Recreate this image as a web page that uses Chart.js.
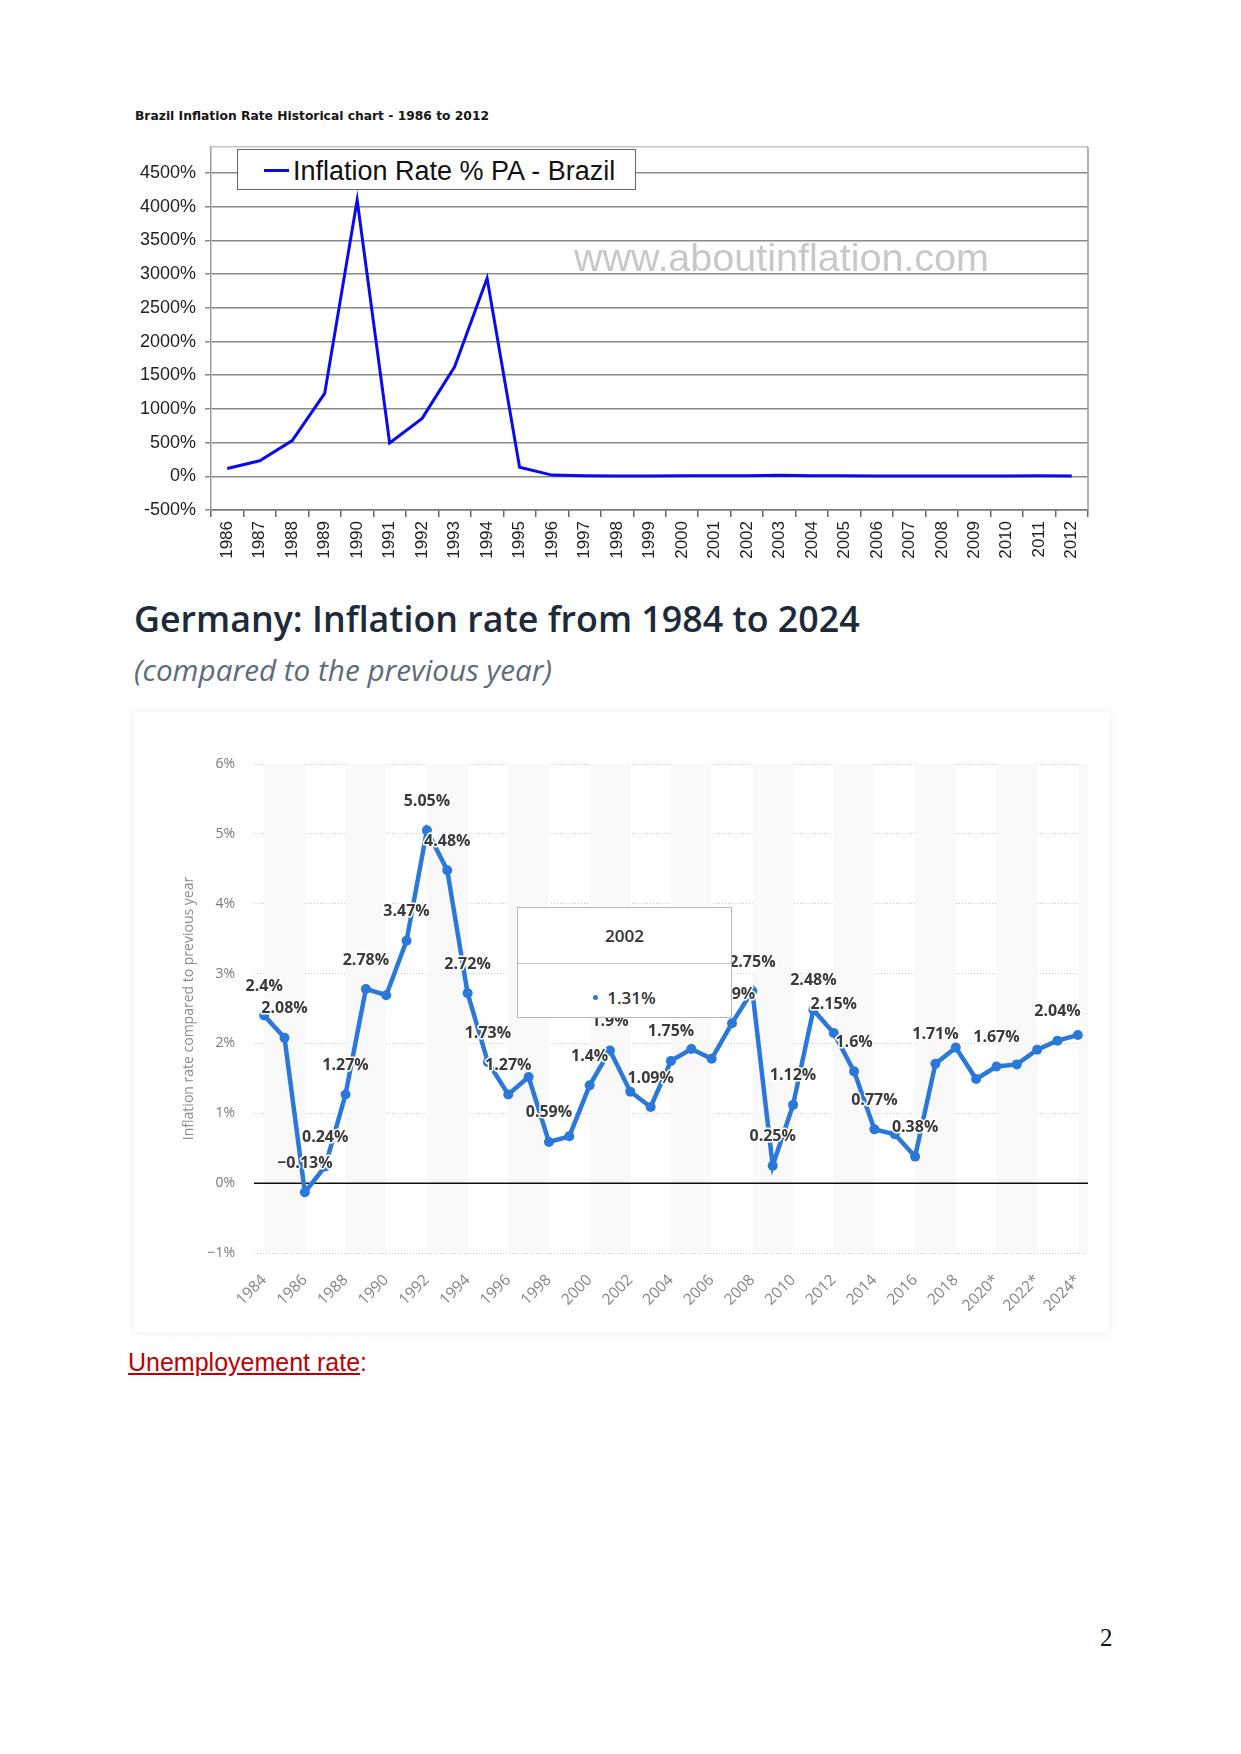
<!DOCTYPE html>
<html>
<head>
<meta charset="utf-8">
<script src="https://cdn.jsdelivr.net/npm/chart.js@4.4.1/dist/chart.umd.min.js"></script>
<style>
    body { margin: 0; background: #fff; width: 1241px; height: 1754px; position: relative; overflow: hidden; }
    .abs { position: absolute; white-space: nowrap; }

    #titulo_brasil { left: 135px; top: 109.6px; font: bold 12.3px/1 'DejaVu Sans'; color: #151515; }
    #caixa_brasil { left: 120px; top: 127px; width: 980px; height: 448px; }
    #marca_brasil { left: 574px; top: 238px; font: 39.5px/1 'Liberation Sans'; color: #c8c8c8; }
    #legenda_brasil { left: 237px; top: 149px; width: 399px; height: 41px; box-sizing: border-box; border: 1.5px solid #666; background: #fff; }
    #legenda_brasil .traco { position: absolute; left: 26px; top: 19px; width: 25px; height: 3px; background: #0a0aee; }
    #legenda_brasil .texto { position: absolute; left: 55px; top: 7.5px; font: 27px/1 'Liberation Sans'; color: #111; }

    #titulo_alemanha { left: 134px; top: 601px; font: 600 35.8px/1 'Open Sans'; color: #1c2a3a; }
    #subtitulo_alemanha { left: 134px; top: 655px; font: italic 29.7px/1 'Open Sans'; color: #5d6b7b; }
    #painel_alemanha { left: 134px; top: 712px; width: 976px; height: 620px; background: #fff; box-shadow: 0 0 10px rgba(0,0,0,0.08); }
    #caixa_alemanha { left: 134px; top: 712px; width: 976px; height: 620px; }
    #dica_alemanha { left: 517px; top: 907px; width: 215px; height: 111px; box-sizing: border-box; border: 1.5px solid #b8b8b8; background: #fff; font-family: 'Open Sans'; color: #333; }
    #dica_alemanha .cabeca { height: 55px; border-bottom: 1px solid #c8c8c8; text-align: center; font: 600 17px/55px 'Open Sans'; }
    #dica_alemanha .corpo { text-align: center; font: 600 17px/1 'Open Sans'; padding-top: 25px; }
    #dica_alemanha .bola { display: inline-block; width: 5px; height: 5px; border-radius: 50%; background: #2a78d9; vertical-align: middle; margin-right: 9px; position: relative; top: -2px; }

    #desemprego { left: 128px; top: 1350px; font: 25px/1 'Liberation Sans'; color: #c00000; }
    #desemprego a { color: #c00000; text-decoration: underline; text-underline-offset: 2px; }
    #pagina { left: 1100px; top: 1625px; font: 25px/1 'Liberation Serif'; color: #111; }
</style>
</head>
<body>

<div class="abs" id="titulo_brasil">Brazil Inflation Rate Historical chart - 1986 to 2012</div>
<div class="abs" id="caixa_brasil"><canvas id="grafico_brasil"></canvas></div>
<div class="abs" id="marca_brasil">www.aboutinflation.com</div>
<div class="abs" id="legenda_brasil"><div class="traco"></div><div class="texto">Inflation Rate % PA - Brazil</div></div>

<div class="abs" id="titulo_alemanha">Germany: Inflation rate from 1984 to 2024</div>
<div class="abs" id="subtitulo_alemanha">(compared to the previous year)</div>
<div class="abs" id="painel_alemanha"></div>
<div class="abs" id="caixa_alemanha"><canvas id="grafico_alemanha"></canvas></div>
<div class="abs" id="dica_alemanha"><div class="cabeca" id="dica_ano"></div><div class="corpo"><span class="bola"></span><span id="dica_valor"></span></div></div>

<div class="abs" id="desemprego"><a>Unemployement rate</a>:</div>
<div class="abs" id="pagina">2</div>

<script>
/* DADOS BRASIL */

const anos_brasil = ['1986', '1987', '1988', '1989', '1990', '1991', '1992', '1993', '1994', '1995', '1996', '1997', '1998', '1999',
    '2000', '2001', '2002', '2003', '2004', '2005', '2006', '2007', '2008', '2009', '2010', '2011', '2012'];

const inflacao_brasil = [115, 230, 530, 1230, 4100, 495, 860, 1625, 2940, 135, 18, 7, 3, 5,
    7, 7, 8, 15, 7, 7, 4, 4, 6, 5, 5, 7, 5];

const ticks_brasil = [-500, 0, 500, 1000, 1500, 2000, 2500, 3000, 3500, 4000, 4500];

const legenda_brasil = 'Inflation Rate % PA - Brazil';

/* DADOS ALEMANHA */

const anos_alemanha = ['1984', '1985', '1986', '1987', '1988', '1989', '1990', '1991', '1992', '1993', '1994', '1995', '1996', '1997',
    '1998', '1999', '2000', '2001', '2002', '2003', '2004', '2005', '2006', '2007', '2008', '2009', '2010', '2011', '2012', '2013',
    '2014', '2015', '2016', '2017', '2018', '2019', '2020*', '2021*', '2022*', '2023*', '2024*'];

const inflacao_alemanha = [2.4, 2.08, -0.13, 0.24, 1.27, 2.78, 2.69, 3.47, 5.05, 4.48, 2.72, 1.73, 1.27, 1.52,
    0.59, 0.67, 1.4, 1.9, 1.31, 1.09, 1.75, 1.92, 1.78, 2.29, 2.75, 0.25, 1.12, 2.48, 2.15, 1.6,
    0.77, 0.7, 0.38, 1.71, 1.94, 1.49, 1.67, 1.7, 1.91, 2.04, 2.12];

// anos que mostram o valor em cima do ponto
const anos_rotulados = ['1984', '1985', '1986', '1987', '1988', '1989', '1991', '1992', '1993', '1994', '1995', '1996', '1998',
    '2000', '2001', '2003', '2004', '2007', '2008', '2009', '2010', '2011', '2012', '2013', '2014', '2016', '2017', '2020*', '2023*'];

const ano_dica = '2002';

const azul_alemanha = '#2a78d9';

function formatar_pct(v) {
    return (v < 0 ? '\u2212' + Math.abs(v) : v) + '%';
}

/* GRÁFICO BRASIL */

const moldura_brasil = {
    id: 'moldura_brasil',
    afterDraw(chart) {
        const { ctx, chartArea: a } = chart;
        ctx.save();
        ctx.lineWidth = 1.5;
        ctx.strokeStyle = '#c4c4c4';
        ctx.beginPath();
        ctx.moveTo(a.left, a.top);
        ctx.lineTo(a.right, a.top);
        ctx.stroke();
        ctx.strokeStyle = '#9a9a9a';
        ctx.beginPath();
        ctx.moveTo(a.right, a.top);
        ctx.lineTo(a.right, a.bottom);
        ctx.stroke();
        ctx.restore();
    }
};

const config_brasil = {
    type: 'line',
    data: {
        labels: anos_brasil,
        datasets: [{
            label: legenda_brasil,
            data: inflacao_brasil,
            borderColor: '#0a0aee',
            borderWidth: 3,
            pointRadius: 0,
            tension: 0
        }]
    },
    options: {
        animation: false,
        responsive: true,
        maintainAspectRatio: false,
        layout: { padding: { top: 13, right: 12, bottom: 0, left: 0 } },
        plugins: {
            legend: { display: false },
            tooltip: { enabled: false }
        },
        scales: {
            x: {
                offset: true,
                afterFit: (s) => { s.height = 65; },
                grid: { offset: true, drawOnChartArea: false, drawTicks: true, tickLength: 7, color: '#666', lineWidth: 1.5 },
                border: { display: true, color: '#777', width: 1.5 },
                ticks: {
                    autoSkip: false,
                    minRotation: 90,
                    maxRotation: 90,
                    padding: 4,
                    color: '#222',
                    font: { family: 'Liberation Sans', size: 17 }
                }
            },
            y: {
                min: -500,
                max: 4890,
                afterFit: (s) => { s.width = 91; },
                afterBuildTicks: (s) => { s.ticks = ticks_brasil.map(v => ({ value: v })); },
                grid: { color: '#8a8a8a', lineWidth: 1.5, drawTicks: true, tickLength: 6 },
                border: { display: true, color: '#9a9a9a', width: 1.5 },
                ticks: {
                    padding: 9,
                    color: '#222',
                    font: { family: 'Liberation Sans', size: 18 },
                    callback: (v) => v + '%'
                }
            }
        }
    },
    plugins: [moldura_brasil]
};

const grafico_brasil = new Chart(document.getElementById('grafico_brasil'), config_brasil);

/* GRÁFICO ALEMANHA */

const faixas_alemanha = {
    id: 'faixas_alemanha',
    beforeDatasetsDraw(chart) {
        const { ctx, chartArea: a, scales: { x, y } } = chart;
        ctx.save();
        ctx.beginPath();
        ctx.rect(a.left, a.top, a.right - a.left, a.bottom - a.top);
        ctx.clip();
        ctx.fillStyle = '#f9f9fa';
        for (let i = 0; i < anos_alemanha.length; i += 4) {
            const x1 = x.getPixelForValue(i);
            const x2 = i + 2 < anos_alemanha.length ? x.getPixelForValue(i + 2) : a.right;
            ctx.fillRect(x1, a.top, x2 - x1, a.bottom - a.top);
        }
        ctx.restore();

        // linha do zero
        const y0 = y.getPixelForValue(0);
        ctx.save();
        ctx.strokeStyle = '#111';
        ctx.lineWidth = 1.5;
        ctx.beginPath();
        ctx.moveTo(a.left, y0);
        ctx.lineTo(a.right, y0);
        ctx.stroke();
        ctx.restore();
    }
};

const rotulos_alemanha = {
    id: 'rotulos_alemanha',
    afterDatasetsDraw(chart) {
        const ctx = chart.ctx;
        const meta = chart.getDatasetMeta(0);
        ctx.save();
        ctx.font = 'bold 16px "Open Sans"';
        ctx.textAlign = 'center';
        ctx.textBaseline = 'middle';
        ctx.lineJoin = 'round';
        ctx.lineWidth = 3;
        ctx.strokeStyle = '#fff';
        ctx.fillStyle = '#3a3a3a';
        anos_rotulados.forEach(ano => {
            const i = anos_alemanha.indexOf(ano);
            const p = meta.data[i];
            const txt = formatar_pct(inflacao_alemanha[i]);
            ctx.strokeText(txt, p.x, p.y - 29);
            ctx.fillText(txt, p.x, p.y - 29);
        });
        ctx.restore();
    }
};

const config_alemanha = {
    type: 'line',
    data: {
        labels: anos_alemanha,
        datasets: [{
            label: 'Inflation rate',
            data: inflacao_alemanha,
            borderColor: azul_alemanha,
            backgroundColor: azul_alemanha,
            borderWidth: 4.5,
            pointRadius: 5,
            pointBorderWidth: 0,
            pointBackgroundColor: azul_alemanha,
            tension: 0
        }]
    },
    options: {
        animation: false,
        responsive: true,
        maintainAspectRatio: false,
        layout: { padding: { top: 52, right: 22, bottom: 9, left: 0 } },
        plugins: {
            legend: { display: false },
            tooltip: { enabled: false }
        },
        scales: {
            x: {
                offset: true,
                afterFit: (s) => { s.height = 70; },
                grid: { display: false },
                border: { display: false },
                ticks: {
                    autoSkip: false,
                    minRotation: 45,
                    maxRotation: 45,
                    padding: 10,
                    color: '#858585',
                    font: { family: 'Open Sans', size: 15.5 },
                    callback: function (v, i) { return i % 2 === 0 ? this.getLabelForValue(v) : ''; }
                }
            },
            y: {
                min: -1,
                max: 6,
                afterFit: (s) => { s.width = 120; },
                grid: {
                    drawTicks: false,
                    lineWidth: 1,
                    color: (c) => c.tick && c.tick.value === 0 ? 'rgba(0,0,0,0)' : '#c9c9c9'
                },
                border: { display: false, dash: [1, 2] },
                title: {
                    display: true,
                    text: 'Inflation rate compared to previous year',
                    color: '#8c8c8c',
                    font: { family: 'Open Sans', size: 14 },
                    padding: { top: 47, bottom: 0 }
                },
                ticks: {
                    stepSize: 1,
                    padding: 19,
                    color: '#7a7a7a',
                    font: { family: 'Open Sans', size: 14 },
                    callback: (v) => formatar_pct(v)
                }
            }
        }
    },
    plugins: [faixas_alemanha, rotulos_alemanha]
};

const grafico_alemanha = new Chart(document.getElementById('grafico_alemanha'), config_alemanha);

// caixa de dica fixa no ano 2002
const idx_dica = anos_alemanha.indexOf(ano_dica);
document.getElementById('dica_ano').textContent = anos_alemanha[idx_dica];
document.getElementById('dica_valor').textContent = formatar_pct(inflacao_alemanha[idx_dica]);
</script>
</body>
</html>
